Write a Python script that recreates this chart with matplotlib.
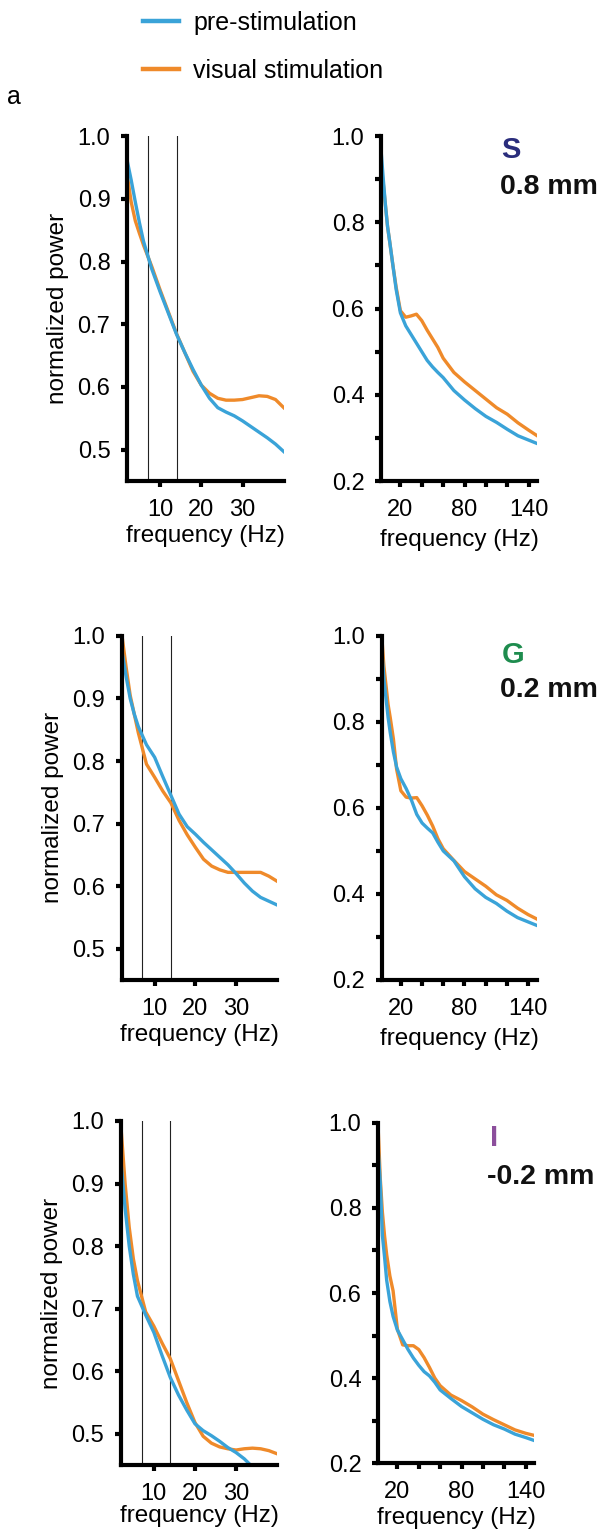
import numpy as np
import matplotlib
matplotlib.use("Agg")
import matplotlib.pyplot as plt
from matplotlib.lines import Line2D

plt.rcParams['font.family'] = ['Liberation Sans', 'DejaVu Sans']

blue = "#3aa3d8"
orange = "#ef8a2a"

# low-frequency panels (Hz)
f_low = [2, 3, 4, 5, 6, 8, 10, 12, 14, 16, 18, 20, 22, 24, 26, 28, 30, 32, 34, 36, 38, 40]
s_low_pre = [0.962, 0.93, 0.895, 0.862, 0.832, 0.788, 0.752, 0.718, 0.684, 0.655, 0.628, 0.603,
             0.582, 0.567, 0.560, 0.554, 0.546, 0.537, 0.528, 0.519, 0.509, 0.497]
s_low_vis = [0.94, 0.895, 0.865, 0.845, 0.826, 0.792, 0.755, 0.72, 0.685, 0.655, 0.625, 0.603,
             0.59, 0.582, 0.579, 0.579, 0.58, 0.583, 0.586, 0.585, 0.58, 0.567]
g_low_pre = [0.975, 0.935, 0.90, 0.875, 0.855, 0.826, 0.806, 0.775, 0.745, 0.715, 0.695, 0.683,
             0.67, 0.658, 0.646, 0.634, 0.62, 0.605, 0.592, 0.582, 0.576, 0.570]
g_low_vis = [1.0, 0.95, 0.905, 0.875, 0.845, 0.795, 0.774, 0.752, 0.733, 0.705, 0.682, 0.662,
             0.643, 0.632, 0.626, 0.622, 0.622, 0.622, 0.622, 0.622, 0.616, 0.608]
i_low_pre = [0.935, 0.86, 0.80, 0.755, 0.72, 0.69, 0.662, 0.625, 0.59, 0.562, 0.538, 0.516,
             0.505, 0.497, 0.488, 0.478, 0.47, 0.46, 0.447, 0.436, 0.425, 0.415]
i_low_vis = [0.99, 0.90, 0.83, 0.78, 0.745, 0.695, 0.672, 0.645, 0.62, 0.585, 0.55, 0.518,
             0.496, 0.485, 0.479, 0.476, 0.474, 0.476, 0.477, 0.476, 0.473, 0.468]

# full range panels (Hz)
f_high = [2, 4, 6, 8, 10, 13, 16, 20, 25, 30, 35, 40, 45, 50, 55, 60, 70, 80, 90, 100,
          110, 120, 130, 140, 148]
s_high_pre = [0.965, 0.90, 0.84, 0.79, 0.755, 0.70, 0.645, 0.59, 0.56, 0.54, 0.52, 0.50, 0.48,
              0.465, 0.452, 0.44, 0.41, 0.388, 0.368, 0.35, 0.336, 0.32, 0.305, 0.295, 0.287]
s_high_vis = [0.93, 0.89, 0.84, 0.79, 0.755, 0.70, 0.65, 0.595, 0.58, 0.583, 0.587, 0.572, 0.55,
              0.53, 0.51, 0.485, 0.452, 0.43, 0.41, 0.39, 0.37, 0.355, 0.335, 0.318, 0.305]
g_high_pre = [0.97, 0.90, 0.855, 0.81, 0.775, 0.73, 0.695, 0.668, 0.645, 0.618, 0.585, 0.565,
              0.553, 0.542, 0.52, 0.5, 0.477, 0.44, 0.412, 0.392, 0.378, 0.36, 0.345, 0.335, 0.327]
g_high_vis = [1.0, 0.93, 0.885, 0.84, 0.81, 0.76, 0.69, 0.64, 0.625, 0.623, 0.624, 0.605, 0.583,
              0.558, 0.528, 0.505, 0.478, 0.452, 0.435, 0.418, 0.398, 0.385, 0.367, 0.352, 0.342]
i_high_pre = [0.94, 0.86, 0.735, 0.685, 0.63, 0.58, 0.545, 0.513, 0.49, 0.467, 0.447, 0.43,
              0.415, 0.405, 0.39, 0.372, 0.352, 0.333, 0.318, 0.303, 0.29, 0.28, 0.268, 0.26, 0.253]
i_high_vis = [0.99, 0.87, 0.79, 0.735, 0.69, 0.64, 0.605, 0.515, 0.478, 0.476, 0.476, 0.467,
              0.448, 0.425, 0.40, 0.382, 0.36, 0.347, 0.332, 0.315, 0.302, 0.29, 0.278, 0.27, 0.265]

band_lines = [7, 14]
layers = ["S", "G", "I"]
depths = ["0.8 mm", "0.2 mm", "-0.2 mm"]
layer_colors = ["#2a2d7c", "#1e8c4e", "#8c4f9c"]

low_data = [(s_low_pre, s_low_vis), (g_low_pre, g_low_vis), (i_low_pre, i_low_vis)]
high_data = [(s_high_pre, s_high_vis), (g_high_pre, g_high_vis), (i_high_pre, i_high_vis)]

fig = plt.figure(figsize=(6.05, 15.36), dpi=100)

# axes boxes [left, bottom, width, height]
left_pos = [[0.210, 0.6868, 0.259, 0.2246],
            [0.2017, 0.3620, 0.256, 0.2240],
            [0.2000, 0.0462, 0.258, 0.2240]]
right_pos = [[0.630, 0.6868, 0.258, 0.2246],
             [0.631, 0.3620, 0.256, 0.2240],
             [0.625, 0.0475, 0.258, 0.2214]]
label_pos = [((0.83, 0.96), (0.763, 0.852)),
             ((0.847, 0.945), (0.763, 0.843)),
             ((0.744, 0.956), (0.70, 0.842))]
xlabel_pad = [(3, 6), (3, 6), (0, 3)]


def style(ax):
    for s in ["top", "right"]:
        ax.spines[s].set_visible(False)
    for s in ["left", "bottom"]:
        ax.spines[s].set_linewidth(3)
    ax.tick_params(which="both", direction="out", length=4, width=3, labelsize=17)
    ax.tick_params(axis="y", which="both", pad=8)
    ax.tick_params(axis="x", which="both", pad=9)


for r in range(3):
    ax = fig.add_axes(left_pos[r])
    pre, vis = low_data[r]
    for b in band_lines:
        ax.axvline(b, color="#222222", lw=0.8)
    ax.plot(f_low, vis, color=orange, lw=2.4)
    ax.plot(f_low, pre, color=blue, lw=2.4)
    ax.set_xlim(2, 40)
    ax.set_ylim(0.45, 1.0)
    ax.set_xticks([10, 20, 30])
    ax.set_yticks([0.5, 0.6, 0.7, 0.8, 0.9, 1.0])
    ax.set_yticklabels(["0.5", "0.6", "0.7", "0.8", "0.9", "1.0"])
    ax.set_ylabel("normalized power", fontsize=17.5, labelpad=6)
    ax.set_xlabel("frequency (Hz)", fontsize=17.5, labelpad=xlabel_pad[r][0])
    style(ax)

    ax2 = fig.add_axes(right_pos[r])
    pre, vis = high_data[r]
    ax2.plot(f_high, vis, color=orange, lw=2.4)
    ax2.plot(f_high, pre, color=blue, lw=2.4)
    ax2.set_xlim(2, 148)
    ax2.set_ylim(0.2, 1.0)
    ax2.set_xticks([20, 80, 140])
    ax2.set_xticks([40, 60, 100, 120], minor=True)
    ax2.set_yticks([0.2, 0.4, 0.6, 0.8, 1.0])
    ax2.set_yticklabels(["0.2", "0.4", "0.6", "0.8", "1.0"])
    ax2.set_yticks([0.3, 0.5, 0.7, 0.9], minor=True)
    ax2.set_xlabel("frequency (Hz)", fontsize=17.5, labelpad=xlabel_pad[r][1])
    style(ax2)
    (lx, ly), (dx, dy) = label_pos[r]
    ax2.text(lx, ly, layers[r], transform=ax2.transAxes, color=layer_colors[r],
             fontsize=21, fontweight="bold", ha="center", va="center")
    ax2.text(dx, dy, depths[r], transform=ax2.transAxes, color="#111111",
             fontsize=20.5, fontweight="bold", ha="left", va="center")

handles = [Line2D([], [], color=blue, lw=3.2), Line2D([], [], color=orange, lw=3.2)]
fig.legend(handles, ["pre-stimulation", "visual stimulation"], loc="upper left",
           bbox_to_anchor=(0.2364, 0.9928), frameon=False, fontsize=18,
           handlelength=1.45, handletextpad=0.55, labelspacing=0.95, borderpad=0,
           borderaxespad=0)
fig.text(0.012, 1 - 97 / 1536, "a", fontsize=18, va="center", ha="left")

fig.savefig("out.png", dpi=100)
